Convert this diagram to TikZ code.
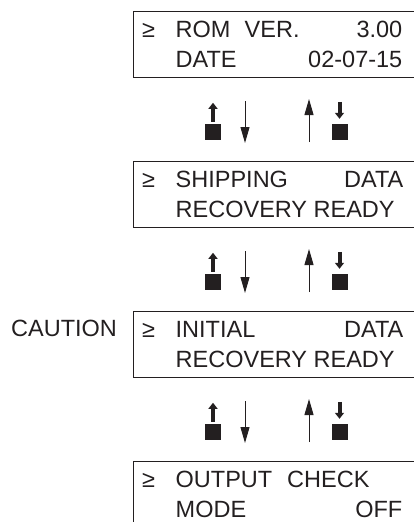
\documentclass[tikz,border=0pt]{standalone}
\usepackage{fontspec}
\setmainfont{Liberation Sans}
\usetikzlibrary{arrows.meta}
\definecolor{ink}{RGB}{35,31,32}
\begin{document}
\begin{tikzpicture}[x=1pt,y=-1pt,
  lcd/.style={draw=ink,line width=1.2pt,minimum width=300pt,minimum height=66pt,inner sep=0pt,anchor=north west},
  txt/.style={font=\fontsize{23.5}{28}\selectfont,text=ink,inner sep=0pt,anchor=base west},
  rtxt/.style={txt,anchor=base east},
  sq/.style={fill=ink,minimum size=16pt,inner sep=0pt},
  thinarrow/.style={draw=ink,line width=1pt,-{Triangle[length=16pt,width=9pt]}},
  keyarrow/.style={draw=ink,line width=4pt,-{Triangle[length=6pt,width=9pt]}}]
\useasboundingbox (0,0) rectangle (414,522);
\clip (0,0) rectangle (414,522);
% boxes
\foreach \i/\t in {1/11,2/161,3/311,4/461}{
  \node[lcd] (box\i) at (133,\t) {};
  \node[txt] (ge\i) at (142,\t+26) {≥};
}
% box 1
\node[txt] (rom) at (175.5,37) {ROM};
\node[txt] (ver) at (244.5,37) {VER.};
\node[rtxt] (vnum) at (402.5,37) {3.00};
\node[txt] (date) at (175.5,67) {DATE};
\node[rtxt] (dnum) at (402.5,67) {02-07-15};
% box 2
\node[txt] (ship) at (175.5,187) {SHIPPING};
\node[rtxt] (data2) at (403.5,187) {DATA};
\node[txt] (rec2) at (175.5,217) {RECOVERY READY};
% box 3
\node[txt] (init) at (175.5,337) {INITIAL};
\node[rtxt] (data3) at (403.5,337) {DATA};
\node[txt] (rec3) at (175.5,367) {RECOVERY READY};
\node[txt] (caution) at (11,336) {CAUTION};
% box 4
\node[txt] (out) at (175.5,487) {OUTPUT};
\node[txt] (check) at (287,487) {CHECK};
\node[txt] (mode) at (175.5,517) {MODE};
\node[rtxt] (off) at (402.5,517) {OFF};
% arrow groups
\foreach \g/\o in {1/0,2/150,3/300}{
  \node[sq] (sqa\g) at (213,132+\o) {};
  \node[sq] (sqb\g) at (339.5,132+\o) {};
  \draw[keyarrow] (sqa\g.north) ++(0,-2) -- ++(0,-19);
  \draw[keyarrow] (sqb\g.north) ++(0,-22) -- ++(0,17);
  \draw[thinarrow] (245,101+\o) -- (245,143+\o);
  \draw[thinarrow] (309,142+\o) -- (309,99+\o);
}
\end{tikzpicture}
\end{document}
